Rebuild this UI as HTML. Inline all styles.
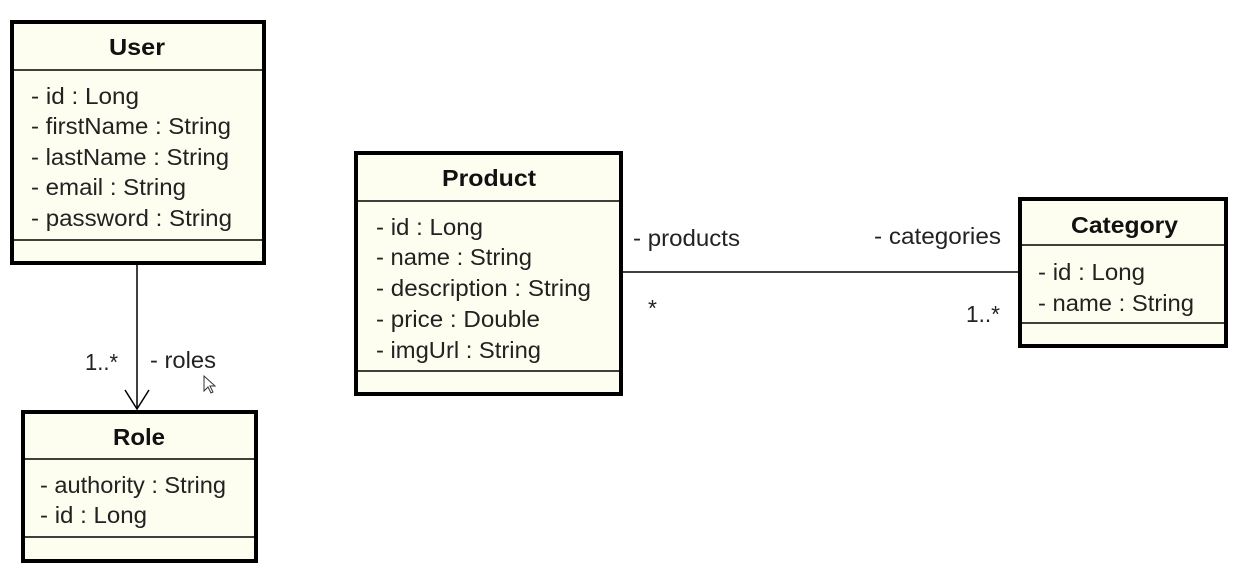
<!DOCTYPE html>
<html><head><meta charset="utf-8"><style>
html,body{margin:0;padding:0;background:#fff;}
svg{display:block;}
text{font-family:"Liberation Sans",Arial,sans-serif;font-size:23px;fill:#222;}
.h{font-weight:bold;font-size:23px;fill:#111;}
</style></head><body>
<svg width="1243" height="578" viewBox="0 0 1243 578">
<g stroke="#000" fill="#fdfdf0">
<rect x="12" y="22" width="252" height="241" stroke-width="4"/>
<rect x="356" y="153" width="265" height="241" stroke-width="4"/>
<rect x="1020" y="199" width="206" height="147" stroke-width="4"/>
<rect x="23" y="412" width="233" height="149" stroke-width="4"/>
</g>
<g stroke="#000" stroke-width="1.5">
<line x1="12" y1="70" x2="264" y2="70"/><line x1="12" y1="240" x2="264" y2="240"/>
<line x1="356" y1="201" x2="621" y2="201"/><line x1="356" y1="371" x2="621" y2="371"/>
<line x1="1020" y1="245" x2="1226" y2="245"/><line x1="1020" y1="323" x2="1226" y2="323"/>
<line x1="23" y1="459" x2="256" y2="459"/><line x1="23" y1="537" x2="256" y2="537"/>
<line x1="623" y1="272" x2="1018" y2="272"/>
<line x1="137" y1="265" x2="137" y2="409"/>
<polyline points="125,390 137,409 149,390" fill="none"/>
</g>
<text class="h" x="109" y="55" textLength="56" lengthAdjust="spacingAndGlyphs">User</text>
<text x="31" y="104" textLength="108" lengthAdjust="spacingAndGlyphs">- id : Long</text>
<text x="31" y="134" textLength="200" lengthAdjust="spacingAndGlyphs">- firstName : String</text>
<text x="31" y="165" textLength="198" lengthAdjust="spacingAndGlyphs">- lastName : String</text>
<text x="31" y="195" textLength="155" lengthAdjust="spacingAndGlyphs">- email : String</text>
<text x="31" y="226" textLength="201" lengthAdjust="spacingAndGlyphs">- password : String</text>

<text class="h" x="442" y="186" textLength="94" lengthAdjust="spacingAndGlyphs">Product</text>
<text x="376" y="235" textLength="107" lengthAdjust="spacingAndGlyphs">- id : Long</text>
<text x="376" y="265" textLength="156" lengthAdjust="spacingAndGlyphs">- name : String</text>
<text x="376" y="296" textLength="215" lengthAdjust="spacingAndGlyphs">- description : String</text>
<text x="376" y="327" textLength="164" lengthAdjust="spacingAndGlyphs">- price : Double</text>
<text x="376" y="358" textLength="165" lengthAdjust="spacingAndGlyphs">- imgUrl : String</text>

<text class="h" x="1071" y="233" textLength="107" lengthAdjust="spacingAndGlyphs">Category</text>
<text x="1038" y="280" textLength="107" lengthAdjust="spacingAndGlyphs">- id : Long</text>
<text x="1038" y="311" textLength="156" lengthAdjust="spacingAndGlyphs">- name : String</text>

<text class="h" x="113" y="445" textLength="52" lengthAdjust="spacingAndGlyphs">Role</text>
<text x="40" y="493" textLength="186" lengthAdjust="spacingAndGlyphs">- authority : String</text>
<text x="40" y="523" textLength="107" lengthAdjust="spacingAndGlyphs">- id : Long</text>

<text x="633" y="246" textLength="107" lengthAdjust="spacingAndGlyphs">- products</text>
<text x="648" y="316">*</text>
<text x="874" y="244" textLength="127" lengthAdjust="spacingAndGlyphs">- categories</text>
<text x="966" y="322" textLength="34" lengthAdjust="spacingAndGlyphs">1..*</text>
<text x="85" y="370" textLength="33" lengthAdjust="spacingAndGlyphs">1..*</text>
<text x="150" y="368" textLength="66" lengthAdjust="spacingAndGlyphs">- roles</text>
<path d="M204,376 L204,391 L208,387 L211,393 L213,392 L210,386 L215,386 Z" fill="#fff" stroke="#333" stroke-width="1"/>
</svg>
</body></html>
